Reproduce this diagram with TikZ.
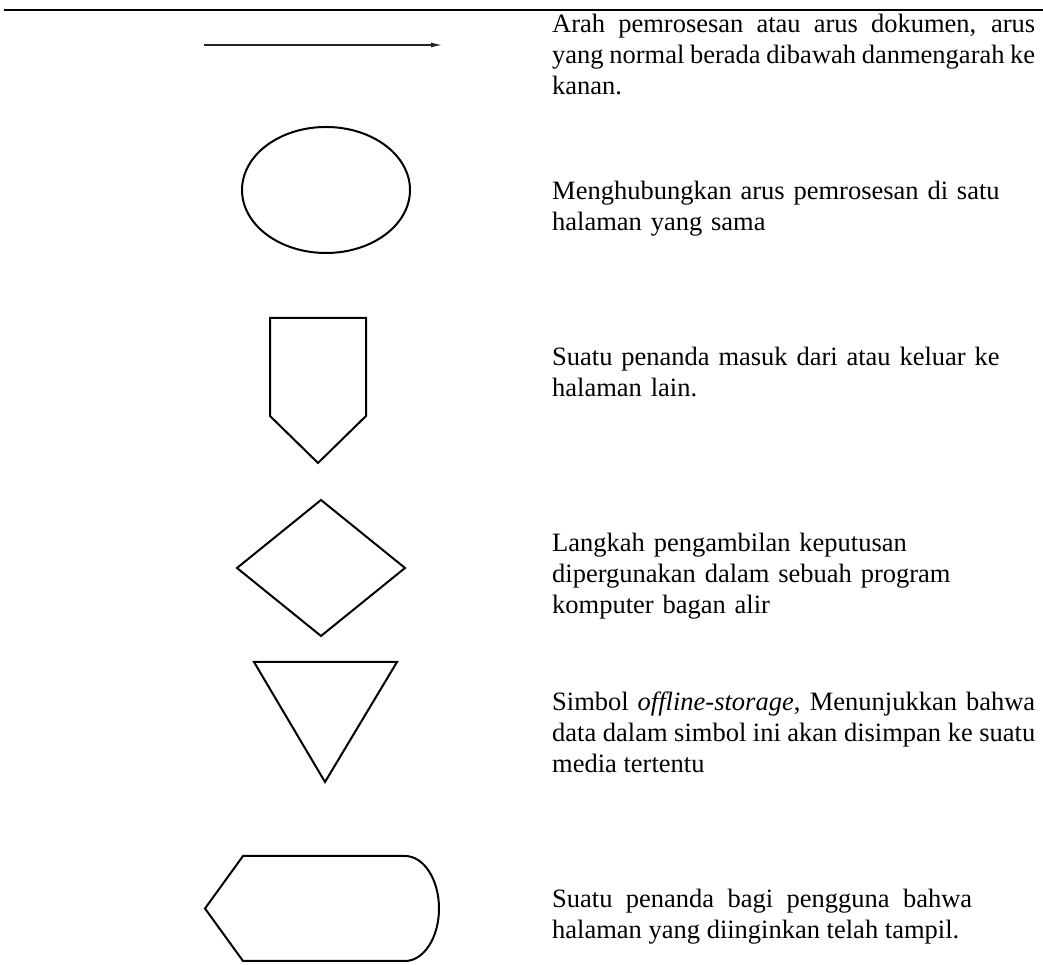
\documentclass[tikz,border=0pt]{standalone}
\usepackage{fontspec}
\setmainfont{Liberation Serif}
\usetikzlibrary{arrows.meta}

\tikzset{
 simbol/.style={black, line width=2pt, line join=miter},
 ket/.style={anchor=base west, inner sep=0, text width=483pt,
  font=\fontsize{26.5}{31}\selectfont},
}

\begin{document}
\begin{tikzpicture} [x=1pt, y=1pt]
\useasboundingbox (0,0) rectangle (1043,965);
\draw[black, line width=2.5pt] (4,955) -- (1043,955);
% arus
\coordinate (a1) at (204,920);
\coordinate (a2) at (442,920);
\draw[black!85, line width=1.1pt, -{Latex[length=11pt,width=5pt]}] (a1) -- (a2);
% konektor
\draw[simbol] (326,775) ellipse [x radius=84, y radius=63];
% off-page
\draw[simbol] (270,647) -- (366,647) -- (366,549) -- (318,502) -- (270,549) -- cycle;
% keputusan
\draw[simbol] (237,397) -- (321,465) -- (405,397) -- (321,329) -- cycle;
% offline storage
\draw[simbol] (254,303) -- (397,303) -- (325,183) -- cycle;
% display
\draw[simbol] (243,109) -- (405,109) arc (90:-90:34 and 52.5) -- (243,4) -- (205,56.5) -- cycle;

\node[ket, align=justify] (ket1) at (552,932)
 {Arah pemrosesan atau arus dokumen, arus\linebreak yang normal berada dibawah danmengarah ke\linebreak kanan.};
\node[ket, align=left] (ket2) at (552,765)
 {Menghubungkan arus pemrosesan di satu\\ halaman yang sama};
\node[ket, align=left] (ket3) at (552,599)
 {Suatu penanda masuk dari atau keluar ke\\ halaman lain.};
\node[ket, align=left] (ket4) at (552,413)
 {Langkah pengambilan keputusan\\ dipergunakan dalam sebuah program\\ komputer bagan alir};
\node[ket, align=justify] (ket5) at (552,254)
 {Simbol \textit{offline-storage}, Menunjukkan bahwa\linebreak data dalam simbol ini akan disimpan ke suatu\linebreak media tertentu};
\node[ket, align=justify, text width=420pt] (ket6) at (552,57)
 {Suatu penanda bagi pengguna bahwa\linebreak halaman yang diinginkan telah tampil.};
\end{tikzpicture}
\end{document}
